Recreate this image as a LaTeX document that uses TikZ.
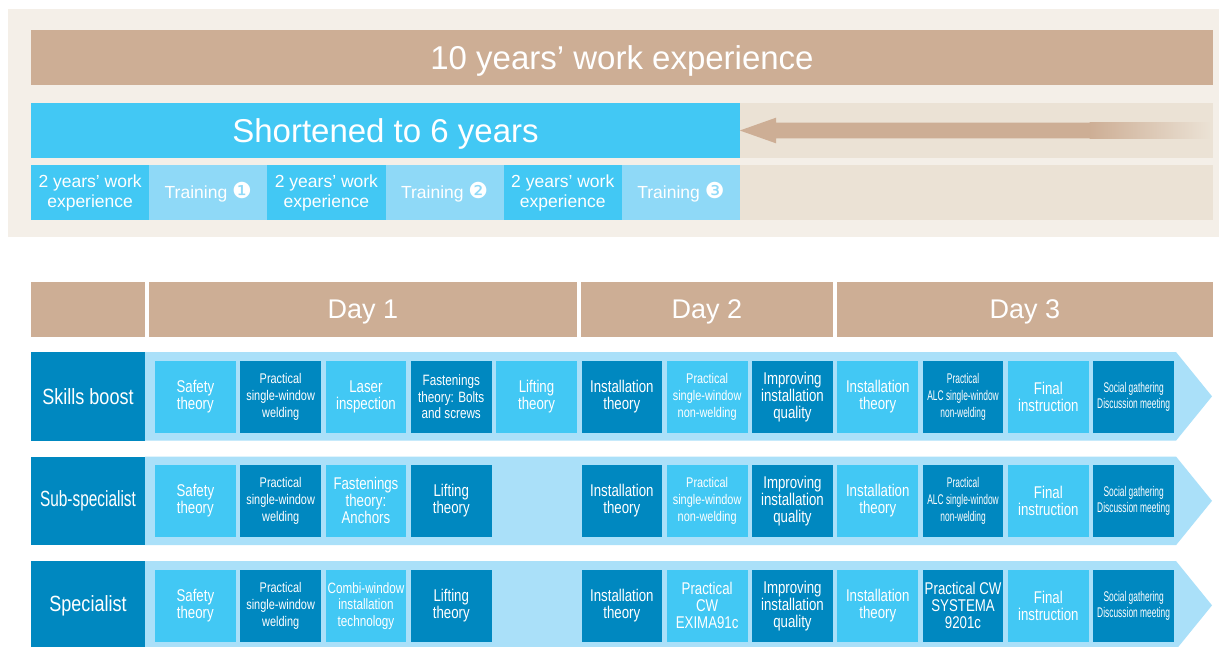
\documentclass[tikz,border=0pt]{standalone}
\usepackage{fontspec}
\setmainfont{Liberation Sans}
\newfontfamily\condfont[FakeStretch=0.78]{Liberation Sans}
\newfontfamily\slimfont[FakeStretch=0.6]{Liberation Sans}
\newfontfamily\labelfont[FakeStretch=0.82]{Liberation Sans}
\newfontfamily\labelslim[FakeStretch=0.7]{Liberation Sans}
\newfontfamily\dingfont{DejaVu Sans}

\definecolor{panelbg}{HTML}{F4EFE8}
\definecolor{tan}{HTML}{CDAE95}
\definecolor{sand}{HTML}{EBE2D5}
\definecolor{brightblue}{HTML}{42C8F4}
\definecolor{paleblue}{HTML}{8FD9F7}
\definecolor{deepblue}{HTML}{0088C0}
\definecolor{bandblue}{HTML}{AAE0F9}

\newcommand\cellbig{\condfont\fontsize{17}{17}\selectfont}
\newcommand\cellmid{\condfont\fontsize{15}{16.7}\selectfont}
\newcommand\cellsm{\condfont\fontsize{14}{16.7}\selectfont}
\newcommand\cellslim{\slimfont\fontsize{14}{16.7}\selectfont}
\newcommand\ding[1]{{\dingfont\fontsize{22}{20}\selectfont #1}}

\begin{document}
\begin{tikzpicture}[x=1pt, y=-1pt,
    block/.style={inner sep=0pt, text=white, align=center},
    title/.style={block, minimum height=55pt, text depth=0pt, font=\fontsize{33}{33}\selectfont},
    period/.style={block, minimum width=118.2pt, minimum height=55pt, font=\fontsize{17.5}{20}\selectfont},
    dayhead/.style={block, fill=tan, minimum height=54.7pt, font=\fontsize{27}{27}\selectfont},
    rowlabel/.style={block, fill=deepblue, minimum width=114pt, minimum height=88.7pt, font=\labelfont\fontsize{22}{22}\selectfont},
    cell/.style={block, minimum width=80.7pt, minimum height=71.7pt}]
    \useasboundingbox (0,0) rectangle (1219,646);
    \fill[white] (0,0) rectangle (1219,646);

    % Top panel: 10 years vs 6 years
    \fill[panelbg] (8,9) rectangle (1219,237);
    \node[title, fill=tan, minimum width=1182pt] (tenyears) at (622,57.5) {10 years’ work experience};
    \node[title, fill=brightblue, minimum width=709pt] (sixyears) at (385.5,130.5) {Shortened to 6 years};
    \node[title, fill=sand, minimum width=473pt] (saved) at (976.5,130.5) {};
    % Arrow pointing back to the blue bar
    \fill[tan] (saved.west) -- (776,117.7) -- (776,122.7) -- (1090,122.7)
        -- (1090,138.3) -- (776,138.3) -- (776,143.3) -- cycle;
    \shade[left color=tan, right color=sand] (1089.5,122.7) rectangle (1211,138.3);

    % Work / training periods
    \foreach \i/\col/\txt in {0/brightblue/2 years’ work\\experience, 1/paleblue/Training \ding{❶},
        2/brightblue/2 years’ work\\experience, 3/paleblue/Training \ding{❷},
        4/brightblue/2 years’ work\\experience, 5/paleblue/Training \ding{❸}}
        \node[period, fill=\col] (period\i) at (90.1+118.17*\i,192.5) {\txt};
    \node[period, fill=sand, minimum width=473pt] (rest) at (976.5,192.5) {};

    % Day header
    \node[dayhead, minimum width=114pt] (corner) at (88,309.3) {};
    \node[dayhead, minimum width=428pt, text depth=0pt] (day1) at (363,309.3) {Day 1};
    \node[dayhead, minimum width=252pt, text depth=0pt] (day2) at (707,309.3) {Day 2};
    \node[dayhead, minimum width=376pt, text depth=0pt] (day3) at (1025,309.3) {Day 3};

    % Course bands
    \foreach \t in {352,456.5,561}
        \fill[bandblue] (145,\t) -- (1176,\t) -- (1212,\t+44.35) -- (1176,\t+88.7) -- (145,\t+88.7) -- cycle;
    \node[rowlabel] (boost) at (88,396.35) {Skills boost};
    \node[rowlabel, font=\labelslim\fontsize{22}{22}\selectfont] (subspec) at (88,500.85) {Sub-specialist};
    \node[rowlabel] (spec) at (88,605.35) {Specialist};

    % Skills boost
    \foreach \k/\f/\txt in {0/\cellbig/Safety\\theory, 1/\cellsm/Practical\\single-window\\welding,
        2/\cellbig/Laser\\inspection, 3/\cellmid/Fastenings\\theory: Bolts\\and screws,
        4/\cellbig/Lifting\\theory, 5/\cellbig/Installation\\theory,
        6/\cellsm/Practical\\single-window\\non-welding, 7/\cellbig/Improving\\installation\\quality,
        8/\cellbig/Installation\\theory, 9/\cellslim/Practical\\ALC single-window\\non-welding,
        10/\cellbig/Final\\instruction, 11/\cellslim/Social gathering\\Discussion meeting}{
        \ifodd\k \def\cellcol{deepblue}\else \def\cellcol{brightblue}\fi
        \node[cell, fill=\cellcol, font=\f] (sb\k) at (195.35+85.3*\k,396.8) {\txt};
    }

    % Sub-specialist
    \foreach \k/\f/\txt in {0/\cellbig/Safety\\theory, 1/\cellsm/Practical\\single-window\\welding,
        2/\cellbig/Fastenings\\theory:\\Anchors, 3/\cellbig/Lifting\\theory,
        5/\cellbig/Installation\\theory,
        6/\cellsm/Practical\\single-window\\non-welding, 7/\cellbig/Improving\\installation\\quality,
        8/\cellbig/Installation\\theory, 9/\cellslim/Practical\\ALC single-window\\non-welding,
        10/\cellbig/Final\\instruction, 11/\cellslim/Social gathering\\Discussion meeting}{
        \ifodd\k \def\cellcol{deepblue}\else \def\cellcol{brightblue}\fi
        \node[cell, fill=\cellcol, font=\f] (ss\k) at (195.35+85.3*\k,500.85) {\txt};
    }

    % Specialist
    \foreach \k/\f/\txt in {0/\cellbig/Safety\\theory, 1/\cellsm/Practical\\single-window\\welding,
        2/\cellmid/Combi-window\\installation\\technology, 3/\cellbig/Lifting\\theory,
        5/\cellbig/Installation\\theory,
        6/\cellbig/Practical\\CW\\EXIMA91c, 7/\cellbig/Improving\\installation\\quality,
        8/\cellbig/Installation\\theory, 9/\cellbig/Practical CW\\SYSTEMA\\9201c,
        10/\cellbig/Final\\instruction, 11/\cellslim/Social gathering\\Discussion meeting}{
        \ifodd\k \def\cellcol{deepblue}\else \def\cellcol{brightblue}\fi
        \node[cell, fill=\cellcol, font=\f] (sp\k) at (195.35+85.3*\k,605.85) {\txt};
    }
\end{tikzpicture}
\end{document}
